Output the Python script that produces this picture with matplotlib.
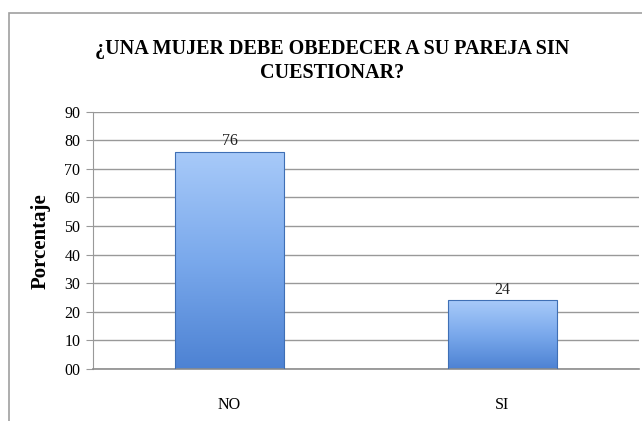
import numpy as np
import matplotlib
matplotlib.use("Agg")
import matplotlib.pyplot as plt
from matplotlib.colors import LinearSegmentedColormap
from matplotlib.ticker import FuncFormatter
from matplotlib.patches import Rectangle

categories = ["NO", "SI"]
values = [76, 24]
title = "¿UNA MUJER DEBE OBEDECER A SU PAREJA SIN\nCUESTIONAR?"
ylabel = "Porcentaje"

plt.rcParams["font.family"] = ["Liberation Serif", "DejaVu Serif"]

fig = plt.figure(figsize=(6.42, 4.21), dpi=100)
ax = fig.add_axes([93 / 642, 1 - 369 / 421, 546 / 642, (369 - 111.6) / 421])

# outer chart frame (only top and left visible in the crop)
fig.add_artist(Rectangle((9 / 642, -0.1), 1.2, 1 - 13 / 421 + 0.1, transform=fig.transFigure,
                         fill=False, edgecolor="#a0a0a0", linewidth=1.2))

x = np.arange(len(categories))
bars = ax.bar(x, values, width=0.40, color="none", edgecolor="#3f6fb5", linewidth=0.8, zorder=3)

grad = np.linspace(0, 1, 256).reshape(-1, 1)
cmap = LinearSegmentedColormap.from_list("blu", ["#4d82d3", "#7aa9ec", "#a8caf9"])
for b in bars:
    x0, y0 = b.get_x(), b.get_y()
    w, h = b.get_width(), b.get_height()
    im = ax.imshow(grad, cmap=cmap, origin="lower", aspect="auto",
                   extent=(x0, x0 + w, y0, y0 + h), zorder=2)
    im.set_clip_path(b)

for xi, v in zip(x, values):
    ax.text(xi, v + 1.0, str(v), ha="center", va="bottom", fontsize=11.5, color="#222222")

ax.set_xlim(-0.5, 1.5)
ax.set_ylim(0, 90)
ax.set_yticks(range(0, 91, 10))
ax.yaxis.set_major_formatter(FuncFormatter(lambda v, p: f"{int(v):02d}"))
ax.set_xticks(x)
ax.set_xticklabels(categories)
ax.tick_params(axis="x", length=0, pad=20, labelsize=11.5)
ax.tick_params(axis="y", length=5, color="#999999", labelsize=11.5, pad=4)
ax.yaxis.grid(True, color="#999999", linewidth=1.0, zorder=0)
ax.set_axisbelow(True)
for s in ["top", "right"]:
    ax.spines[s].set_visible(False)
ax.spines["left"].set_color("#999999")
ax.spines["bottom"].set_color("#8c8c8c")
ax.spines["bottom"].set_linewidth(1.2)

fig.text(41 / 642, 1 - 241 / 421, ylabel, rotation=90, ha="center", va="center",
         fontsize=15, fontweight="bold")
fig.text(332 / 642, 1 - 61 / 421, title, ha="center", va="center", fontsize=14.5,
         fontweight="bold", linespacing=1.3)

fig.savefig("out.png", dpi=100)
